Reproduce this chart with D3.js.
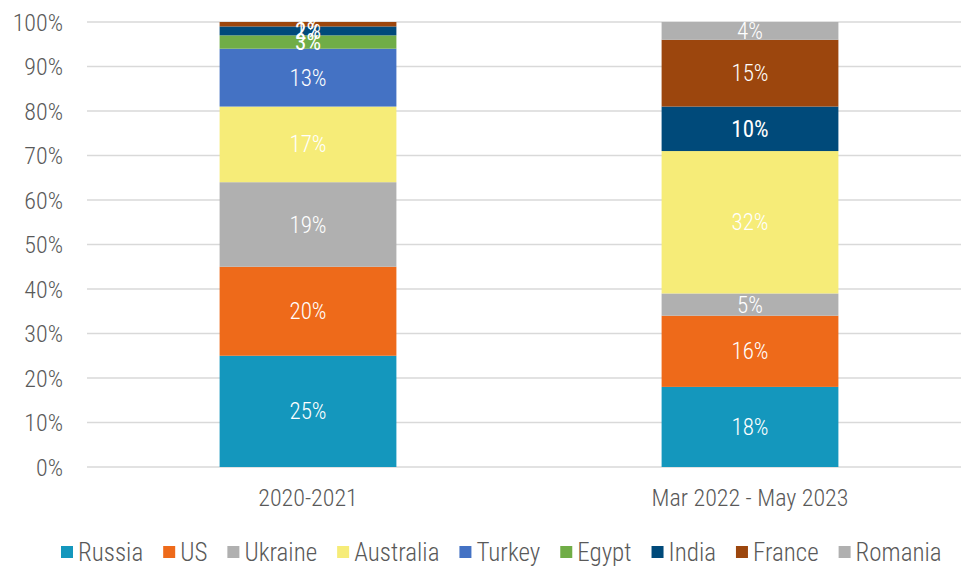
<!DOCTYPE html>
<html><head><meta charset="utf-8">
<script src="https://cdn.jsdelivr.net/npm/d3@7/dist/d3.min.js"></script>
<style>
body{margin:0;background:#fff;}
text{font-family:"Roboto Condensed","Roboto",sans-serif;font-weight:300;}
</style></head>
<body><svg id="c" width="961" height="568"></svg>
<script>
const categories = ["2020-2021", "Mar 2022 - May 2023"];
const seriesNames = ["Russia","US","Ukraine","Australia","Turkey","Egypt","India","France","Romania"];
const russia    = [25, 18];
const us        = [20, 16];
const ukraine   = [19, 5];
const australia = [17, 32];
const turkey    = [13, 0];
const egypt     = [3, 0];
const india     = [2, 10];
const france    = [1, 15];
const romania   = [0, 4];
const yTicks = [0,10,20,30,40,50,60,70,80,90,100];
const colors = ["#1497bd","#ee6a1a","#b0b0b0","#f6ec78","#4472c4","#70ad47","#004a7a","#9c460d","#b0b0b0"];

const seriesValues = [russia, us, ukraine, australia, turkey, egypt, india, france, romania];
const rows = categories.map((c,i)=>{const r={cat:c}; seriesNames.forEach((s,j)=>r[s]=seriesValues[j][i]); return r;});
const stacked = d3.stack().keys(seriesNames)(rows);

const svg = d3.select("#c");
const x = d3.scaleBand().domain(categories).range([87, 971]).paddingInner(0.6).paddingOuter(0.3);
const y = d3.scaleLinear().domain([0,100]).range([467, 22]);

// gridlines
svg.append("g").selectAll("line").data(yTicks).join("line")
  .attr("x1", 87).attr("x2", 961).attr("y1", d=>y(d)).attr("y2", d=>y(d))
  .attr("stroke", "#d9d9d9").attr("stroke-width", 1.3);

// y axis labels
const yAxis = d3.axisLeft(y).tickValues(yTicks).tickFormat(d=>d+"%").tickSize(0).tickPadding(0);
const ya = svg.append("g").attr("transform","translate(63,0)").call(yAxis);
ya.select(".domain").remove();
ya.selectAll("text").attr("fill","#595959").style("font-size","24px").attr("dy","0.35em");

// bars
const g = svg.append("g");
stacked.forEach((s,j)=>{
  g.selectAll(null).data(s.filter(d=>d[1]-d[0]>0)).join("rect")
    .attr("x", d=>x(d.data.cat)).attr("width", x.bandwidth())
    .attr("y", d=>y(d[1])).attr("height", d=>y(d[0])-y(d[1]))
    .attr("fill", colors[j]);
});
// labels
stacked.forEach((s,j)=>{
  g.selectAll(null).data(s.filter(d=>d[1]-d[0]>0)).join("text")
    .attr("x", d=>x(d.data.cat)+x.bandwidth()/2)
    .attr("y", d=>y((d[0]+d[1])/2)).attr("dy","0.35em")
    .attr("text-anchor","middle").attr("fill","#fff")
    .style("font-size","23px")
    .style("font-weight", (seriesNames[j]==="India"||seriesNames[j]==="Egypt")?"400":"300")
    .text(d=>(d[1]-d[0])+"%");
});

// x axis labels
const xAxis = d3.axisBottom(x).tickSize(0).tickPadding(0);
const xa = svg.append("g").attr("transform","translate(0,498)").call(xAxis);
xa.select(".domain").remove();
xa.selectAll("text").attr("fill","#595959").style("font-size","24px").attr("dy","0.35em");

// legend
const legend = svg.append("g");
const items = legend.selectAll("g").data(seriesNames).join("g");
items.each(function(d,i){
  const it = d3.select(this);
  it.append("rect").attr("x",0).attr("y",-6).attr("width",12).attr("height",12).attr("fill",colors[i]);
  it.append("text").attr("x",17).attr("y",0).attr("dy","0.35em").attr("fill","#595959").style("font-size","25px").text(d);
});
let pos = 61;
items.each(function(){
  const w = this.getBBox().width;
  d3.select(this).attr("transform",`translate(${pos},552)`);
  pos += w + 20;
});
</script></body></html>
